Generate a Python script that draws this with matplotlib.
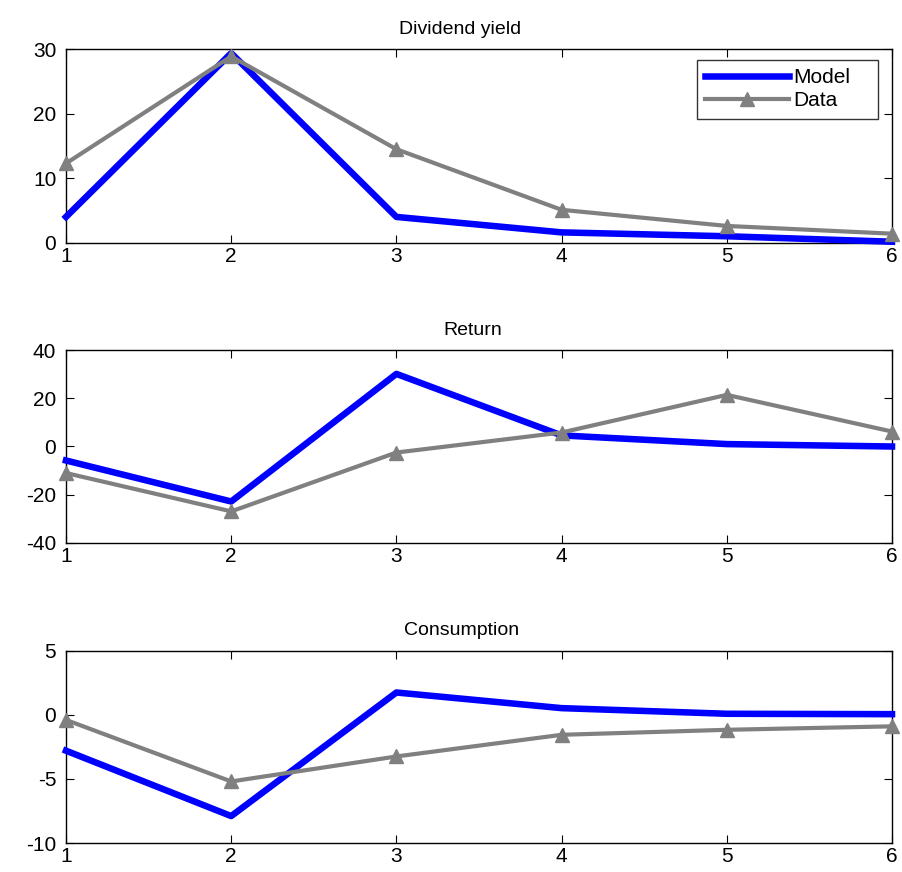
import matplotlib
matplotlib.use('Agg')
import matplotlib.pyplot as plt

plt.rcParams['font.family'] = ['Liberation Sans', 'DejaVu Sans']
plt.rcParams['axes.unicode_minus'] = False

horizon = [1, 2, 3, 4, 5, 6]

# Dividend yield
div_model = [4.0, 29.4, 4.0, 1.6, 1.0, 0.15]
div_data = [12.3, 28.9, 14.5, 5.1, 2.6, 1.4]

# Return
ret_model = [-5.8, -22.8, 30.1, 4.6, 1.0, 0.0]
ret_data = [-11.0, -26.9, -2.5, 5.8, 21.4, 6.2]

# Consumption
cons_model = [-2.8, -7.9, 1.74, 0.52, 0.08, 0.05]
cons_data = [-0.4, -5.2, -3.25, -1.56, -1.17, -0.9]

titles = ['Dividend yield', 'Return', 'Consumption']
models = [div_model, ret_model, cons_model]
datas = [div_data, ret_data, cons_data]
ylims = [(0, 30), (-40, 40), (-10, 5)]
yticks = [[0, 10, 20, 30], [-40, -20, 0, 20, 40], [-10, -5, 0, 5]]
title_x = [0.477, 0.492, 0.479]

fig = plt.figure(figsize=(9.03, 8.72), dpi=100)

left = 66 / 903
width = (892 - 66) / 903
tops = [49.3, 350, 650.7]
bottoms = [242.7, 543, 843]

for i in range(3):
    ax = fig.add_axes([left, 1 - bottoms[i] / 872, width, (bottoms[i] - tops[i]) / 872])
    ax.plot(horizon, models[i], color='#0000ff', lw=4.7, label='Model', clip_on=False, zorder=3)
    ax.plot(horizon, datas[i], color='#808080', lw=3, marker='^', markersize=10,
            label='Data', clip_on=False, zorder=4)
    ax.set_xlim(1, 6)
    ax.set_ylim(*ylims[i])
    ax.set_xticks(horizon)
    ax.set_yticks(yticks[i])
    ax.tick_params(direction='in', top=True, right=True, labelsize=15, length=6)
    ax.tick_params(axis='y', pad=7)
    ax.tick_params(axis='x', pad=3)
    for s in ax.spines.values():
        s.set_linewidth(1.0)
    ax.set_title(titles[i], fontsize=14, pad=11, x=title_x[i])
    if i == 0:
        leg = ax.legend(loc='upper left', fontsize=15, frameon=True, fancybox=False,
                        edgecolor='black', handlelength=4.0, handletextpad=0.2,
                        borderpad=0.4, labelspacing=0.2, mode='expand',
                        bbox_to_anchor=(0.764, 0.0, 0.219, 0.945), borderaxespad=0)
        leg.get_frame().set_linewidth(1.0)

fig.savefig('out.png', dpi=100)
